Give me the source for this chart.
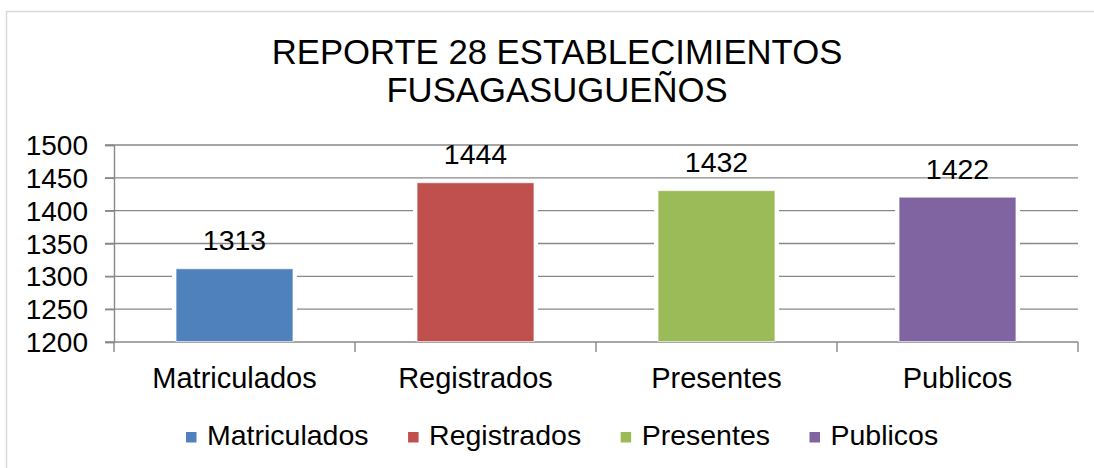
<!DOCTYPE html>
<html>
<head>
<meta charset="utf-8">
<script src="https://cdn.jsdelivr.net/npm/d3@7"></script>
<style>
  body { margin: 0; background: #fff; }
  text { font-family: 'Liberation Sans', Arial, sans-serif; fill: #000; }
</style>
</head>
<body>
<div id="chart"></div>
<script>
const categories = ['Matriculados', 'Registrados', 'Presentes', 'Publicos']
const values = [1313, 1444, 1432, 1422]
const colors = ['#4f81bd', '#c0504d', '#9bbb59', '#8064a2']
const yTicks = [1200, 1250, 1300, 1350, 1400, 1450, 1500]
const titleLines = ['REPORTE 28 ESTABLECIMIENTOS', 'FUSAGASUGUEÑOS']

const width = 1094
const height = 468

const plot = { left: 114, right: 1078, top: 145, bottom: 342 }

const svg = d3
  .select('#chart')
  .append('svg')
  .attr('width', width)
  .attr('height', height)

// outer chart border (runs off the right and bottom edges)
svg
  .append('rect')
  .attr('x', 6.5)
  .attr('y', 11.5)
  .attr('width', 1110)
  .attr('height', 480)
  .attr('fill', '#fff')
  .attr('stroke', '#d9d9d9')
  .attr('stroke-width', 1.5)

svg
  .selectAll('.title')
  .data(titleLines)
  .enter()
  .append('text')
  .attr('class', 'title')
  .text(d => d)
  .attr('x', 557)
  .attr('y', (d, i) => 64.3 + i * 37.4)
  .attr('text-anchor', 'middle')
  .attr('font-size', 34.7)

const xScale = d3
  .scaleBand()
  .domain(categories)
  .range([plot.left, plot.right])
  .paddingInner(0.515)
  .paddingOuter(0.2575)

const xBand = d3
  .scaleBand()
  .domain(categories)
  .range([plot.left, plot.right])

const yScale = d3
  .scaleLinear()
  .domain([1200, 1500])
  .range([plot.bottom, plot.top])

const axisColor = '#888888'

// gridlines
svg
  .append('g')
  .selectAll('line')
  .data(yTicks.filter(d => d > 1200))
  .enter()
  .append('line')
  .attr('x1', plot.left - 9)
  .attr('x2', plot.right)
  .attr('y1', d => yScale(d))
  .attr('y2', d => yScale(d))
  .attr('stroke', axisColor)
  .attr('stroke-width', 1.4)

// y axis
const yAxis = d3
  .axisLeft(yScale)
  .tickValues(yTicks)
  .tickSize(9)
  .tickPadding(17)
  .tickFormat(d3.format('d'))

svg
  .append('g')
  .attr('transform', `translate(${plot.left},0)`)
  .call(yAxis)
  .call(g => g.select('.domain').attr('stroke', axisColor).attr('stroke-width', 1.4))
  .call(g => g.selectAll('.tick line').attr('stroke', axisColor).attr('stroke-width', 1.4))
  .call(g =>
    g
      .selectAll('.tick text')
      .attr('font-size', 28)
      .attr('font-family', "'Liberation Sans', Arial, sans-serif")
      .attr('fill', '#000')
      .attr('dy', 9.5)
  )

// x axis: ticks at category boundaries
const boundaries = categories.map(d => xBand(d)).concat([plot.right])

svg
  .append('line')
  .attr('x1', plot.left - 9)
  .attr('x2', plot.right)
  .attr('y1', plot.bottom)
  .attr('y2', plot.bottom)
  .attr('stroke', axisColor)
  .attr('stroke-width', 1.4)

svg
  .append('g')
  .selectAll('line')
  .data(boundaries)
  .enter()
  .append('line')
  .attr('x1', d => d)
  .attr('x2', d => d)
  .attr('y1', plot.bottom)
  .attr('y2', plot.bottom + 10)
  .attr('stroke', axisColor)
  .attr('stroke-width', 1.4)

svg
  .append('g')
  .selectAll('text')
  .data(categories)
  .enter()
  .append('text')
  .text(d => d)
  .attr('x', d => xBand(d) + xBand.bandwidth() / 2)
  .attr('y', 388)
  .attr('text-anchor', 'middle')
  .attr('font-size', 29)

// bars, with a white halo that breaks the gridlines
const bars = svg
  .append('g')
  .selectAll('g')
  .data(categories)
  .enter()
  .append('g')

bars
  .append('rect')
  .attr('x', d => xScale(d) - 4)
  .attr('width', xScale.bandwidth() + 8)
  .attr('y', (d, i) => yScale(values[i]))
  .attr('height', (d, i) => yScale(1200) - yScale(values[i]) - 1)
  .attr('fill', '#fff')

bars
  .append('rect')
  .attr('x', d => xScale(d))
  .attr('width', xScale.bandwidth())
  .attr('y', (d, i) => yScale(values[i]) + 1)
  .attr('height', (d, i) => yScale(1200) - yScale(values[i]) - 1.5)
  .attr('fill', (d, i) => colors[i])
  .attr('stroke', '#fff')
  .attr('stroke-opacity', 0.6)
  .attr('stroke-width', 1)

bars
  .append('text')
  .text((d, i) => values[i])
  .attr('x', d => xScale(d) + xScale.bandwidth() / 2)
  .attr('y', (d, i) => yScale(values[i]) - 17.5)
  .attr('text-anchor', 'middle')
  .attr('font-size', 28.5)

// legend
const legend = svg.append('g')
let cursor = 186

categories.forEach(function(d, i) {
  const g = legend.append('g')

  g.append('rect')
    .attr('x', cursor)
    .attr('y', 432)
    .attr('width', 10.5)
    .attr('height', 10.5)
    .attr('fill', colors[i])

  const label = g
    .append('text')
    .text(d)
    .attr('x', cursor + 21)
    .attr('y', 444.5)
    .attr('font-size', 28.5)

  cursor = cursor + 21 + label.node().getComputedTextLength() + 39.5
})
</script>
</body>
</html>
